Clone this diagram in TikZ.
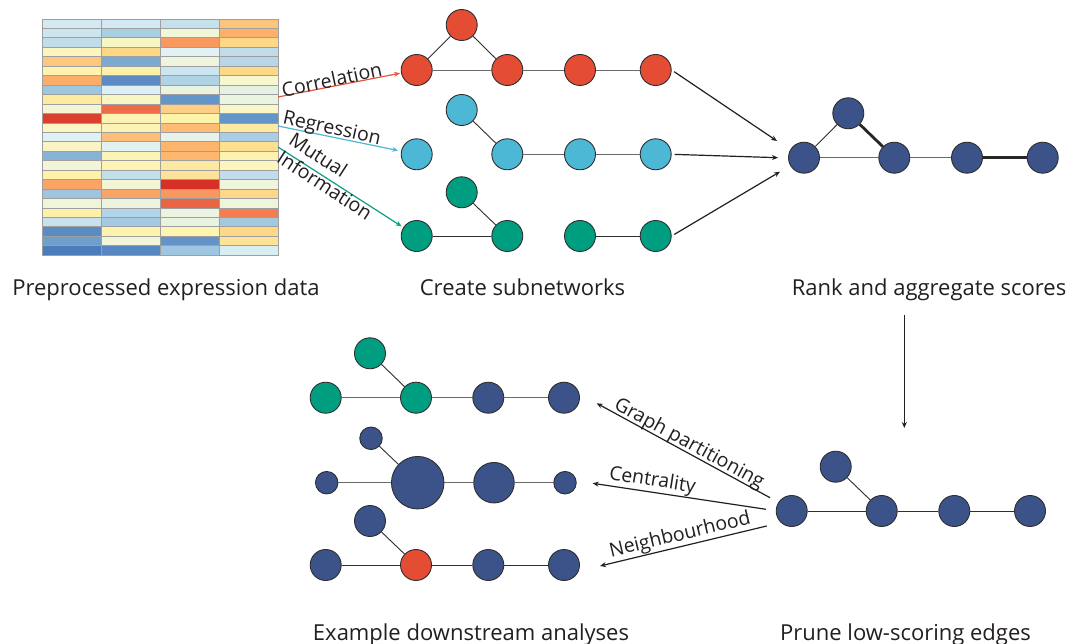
\documentclass[tikz,border=0pt]{standalone}
\usepackage{fontspec}
\setmainfont{Open Sans}
\usetikzlibrary{arrows.meta}
\definecolor{nred}{HTML}{E44C34}
\definecolor{nblue}{HTML}{4DB8D6}
\definecolor{nteal}{HTML}{009E80}
\definecolor{ndark}{HTML}{3B5389}
\definecolor{outl}{HTML}{2E2E2E}
\definecolor{egray}{HTML}{6A6A6A}
\definecolor{txt}{HTML}{231F20}
\definecolor{acor}{HTML}{E8553F}
\definecolor{areg}{HTML}{4DB8D6}
\definecolor{amut}{HTML}{0E9E84}
\begin{document}
\begin{tikzpicture}[x=1pt,y=-1pt,
  gn/.style={circle,draw=outl,line width=0.9pt,minimum size=31pt,inner sep=0pt},
  nr/.style={gn,fill=nred},
  nb/.style={gn,fill=nblue},
  nt/.style={gn,fill=nteal},
  nd/.style={gn,fill=ndark},
  gedge/.style={draw=egray,line width=0.9pt},
  dedge/.style={draw=outl,line width=0.9pt},
  tedge/.style={draw=black!85,line width=2.8pt},
  arr/.style={line width=1.2pt,draw=txt,-{Stealth[length=6pt,width=5pt]}},
  ttl/.style={font=\fontsize{22}{26}\selectfont,anchor=base,text=txt,inner sep=0pt},
  lab/.style={font=\fontsize{19.5}{22}\selectfont,text=txt,inner sep=0pt}
]
\useasboundingbox (0,0) rectangle (1077,644);
\fill[white] (0,0) rectangle (1077,644);

% heatmap
\foreach \cols [count=\r from 0] in {
 {D4E9F2,D4E9F2,C6E0EC,FDC47D},
 {CDE5EF,A8CFE2,F0F6D8,FDB06A},
 {C1DDE9,F9F6C6,F89A60,FDD887},
 {FCF5BD,FDD987,E2F1F3,C1DCE9},
 {FDC87E,7AAAD0,EFF5DC,B7D7E8},
 {FDF2B0,FDF0A8,CDE5EF,FDD887},
 {FBAE6A,5B8BC2,B0D2E5,F8F6CC},
 {9FC6DF,DCF0F4,EAF3E0,E6F1E6},
 {FDE9A0,F8F5C5,6396C8,EBF4DF},
 {F2F6D6,EE6C48,FDCE85,F9F6C8},
 {DB3F2E,FDF3B5,FDF3A9,6395C8},
 {FAF5C4,FCF2B6,FDBB74,FDE9A0},
 {E0F1F5,FDBF78,E6F2EA,A8CDE4},
 {FAF4C4,E2F1F2,FDB56E,FDDF90},
 {86B3D6,FCF4B7,FDB76F,FDF2B0},
 {F2F6D6,FCF3B4,FDE8A0,FBF5BE},
 {FDF2A8,C2DFEC,FDE29A,C1DDEC},
 {FBA466,F3F6D6,D73027,EEF5DC},
 {9EC5DF,F9A566,F79761,FDD888},
 {F0F5D9,ECF4E0,EA6545,EDF5DC},
 {FDF0A8,B2D4E8,EAF4E0,F57D50},
 {C8E1EC,A3CAE0,E9F3E2,A3C9E0},
 {5A8CC3,FDF2AE,FDF5B0,FDD888},
 {6EA0CB,F3F6D6,6393C7,FDE397},
 {4B7CBB,5887C1,9EC6E0,D9EEF3}}{
  \foreach \c [count=\k from 0] in \cols {
    \edef\tmpdef{\noexpand\definecolor{hc}{HTML}{\c}}\tmpdef
    \filldraw[fill=hc,draw=gray!75,line width=0.8pt]
      ({42+59*\k},{19+9.45*\r}) rectangle ({42+59*(\k+1)},{19+9.45*(\r+1)});
  }
}

% subnetworks
\node[nr] (r0) at (461.7,25) {};
\node[nr] (r1) at (416.7,70) {};
\node[nr] (r2) at (507.3,70) {};
\node[nr] (r3) at (580,70) {};
\node[nr] (r4) at (655.7,70) {};
\draw[dedge] (r0) -- (r1);
\draw[dedge] (r0) -- (r2);
\draw[gedge] (r1) -- (r2);
\draw[gedge] (r2) -- (r3);
\draw[gedge] (r3) -- (r4);

\node[nb] (b0) at (461.7,110) {};
\node[nb] (b1) at (416.7,154.3) {};
\node[nb] (b2) at (507.3,154.3) {};
\node[nb] (b3) at (580,154.3) {};
\node[nb] (b4) at (655.7,154.3) {};
\draw[dedge] (b0) -- (b2);
\draw[gedge] (b2) -- (b3);
\draw[gedge] (b3) -- (b4);

\node[nt] (t0) at (461.7,192.3) {};
\node[nt] (t1) at (416.7,236) {};
\node[nt] (t2) at (507.3,236) {};
\node[nt] (t3) at (580,236) {};
\node[nt] (t4) at (655.7,236) {};
\draw[dedge] (t0) -- (t2);
\draw[dedge] (t1) -- (t2);
\draw[dedge] (t3) -- (t4);

% heatmap arrows
\coordinate (hcor) at (278,97);
\coordinate (hreg) at (278,126);
\coordinate (hmut) at (278,147);
\draw[arr,draw=acor,shorten >=1pt] (hcor) -- (r1);
\draw[arr,draw=areg,shorten >=3pt] (hreg) -- (b1);
\draw[arr,draw=amut,shorten >=2pt] (hmut) -- (t1);
\node[lab,rotate=12] (lcor) at (331.7,79.5) {Correlation};
\node[lab,rotate=-12.5] (lreg) at (331.7,129.5) {Regression};
\node[lab,rotate=-33,align=left] (lmut) at (331,176) {Mutual\\Information};

% rank network
\node[nd] (k0) at (848.3,113.3) {};
\node[nd] (k1) at (804,157.7) {};
\node[nd] (k2) at (894.3,157.7) {};
\node[nd] (k3) at (967,157.7) {};
\node[nd] (k4) at (1042.7,157.7) {};
\draw[dedge] (k0) -- (k1);
\draw[tedge] (k0) -- (k2);
\draw[gedge] (k1) -- (k2);
\draw[gedge] (k2) -- (k3);
\draw[tedge] (k3) -- (k4);

\coordinate (ra1) at (777,141);
\coordinate (ra2) at (778,157.7);
\coordinate (ra3) at (780,171.7);
\draw[arr,shorten <=3pt] (r4.east) -- (ra1);
\draw[arr,shorten <=3pt] (b4.east) -- (ra2);
\draw[arr,shorten <=3pt] (t4.east) -- (ra3);

% vertical arrow
\coordinate (vs) at (904.3,315);
\coordinate (ve) at (904.3,428);
\draw[arr] (vs) -- (ve);

% pruned network
\node[nd] (p0) at (835.7,466.7) {};
\node[nd] (p1) at (791.7,511) {};
\node[nd] (p2) at (881.7,511) {};
\node[nd] (p3) at (954.3,511) {};
\node[nd] (p4) at (1030,511) {};
\draw[dedge] (p0) -- (p2);
\draw[dedge] (p1) -- (p2);
\draw[dedge] (p2) -- (p3);
\draw[dedge] (p3) -- (p4);

% downstream analyses
\node[nt] (a0) at (370,353.3) {};
\node[nt] (a1) at (325.7,397.7) {};
\node[nt] (a2) at (416,397.7) {};
\node[nd] (a3) at (488.3,397.7) {};
\node[nd] (a4) at (564,397.7) {};
\draw[dedge] (a0) -- (a2);
\draw[gedge] (a1) -- (a2);
\draw[gedge] (a2) -- (a3);
\draw[gedge] (a3) -- (a4);

\node[nd,minimum size=22.5pt] (c0) at (371,438.3) {};
\node[nd,minimum size=22.5pt] (c1) at (326.7,482.7) {};
\node[nd,minimum size=52.5pt] (c2) at (417.7,482.7) {};
\node[nd,minimum size=40.5pt] (c3) at (494,482.7) {};
\node[nd,minimum size=22.5pt] (c4) at (565,482.7) {};
\draw[dedge] (c0) -- (c2);
\draw[gedge] (c1) -- (c2);
\draw[gedge] (c2) -- (c3);
\draw[gedge] (c3) -- (c4);

\node[nd] (e0) at (370,521) {};
\node[nd] (e1) at (325.7,565) {};
\node[nr] (e2) at (416,565) {};
\node[nd] (e3) at (488.3,565) {};
\node[nd] (e4) at (564,565) {};
\draw[dedge] (e0) -- (e2);
\draw[dedge] (e1) -- (e2);
\draw[dedge] (e2) -- (e3);
\draw[dedge] (e3) -- (e4);

% downstream arrows
\coordinate (gs) at (770,497.7);
\coordinate (ge) at (596.7,403.3);
\coordinate (cs) at (766,509.3);
\coordinate (ce) at (592.7,483.3);
\coordinate (ns) at (766.7,526);
\coordinate (ne) at (600,566);
\draw[arr] (gs) -- (ge);
\draw[arr] (cs) -- (ce);
\draw[arr] (ns) -- (ne);
\node[lab,rotate=-28.5] (lgp) at (689,444) {Graph partitioning};
\node[lab,rotate=-9] (lcen) at (652.3,481) {Centrality};
\node[lab,rotate=13.5] (lnb) at (680,535.5) {Neighbourhood};

% titles
\node[ttl] (T1) at (166,295.5) {Preprocessed expression data};
\node[ttl] (T2) at (522.5,295.5) {Create subnetworks};
\node[ttl] (T3) at (929,295.5) {Rank and aggregate scores};
\node[ttl] (T4) at (471,640.5) {Example downstream analyses};
\node[ttl] (T5) at (905.5,640.5) {Prune low-scoring edges};
\end{tikzpicture}
\end{document}
